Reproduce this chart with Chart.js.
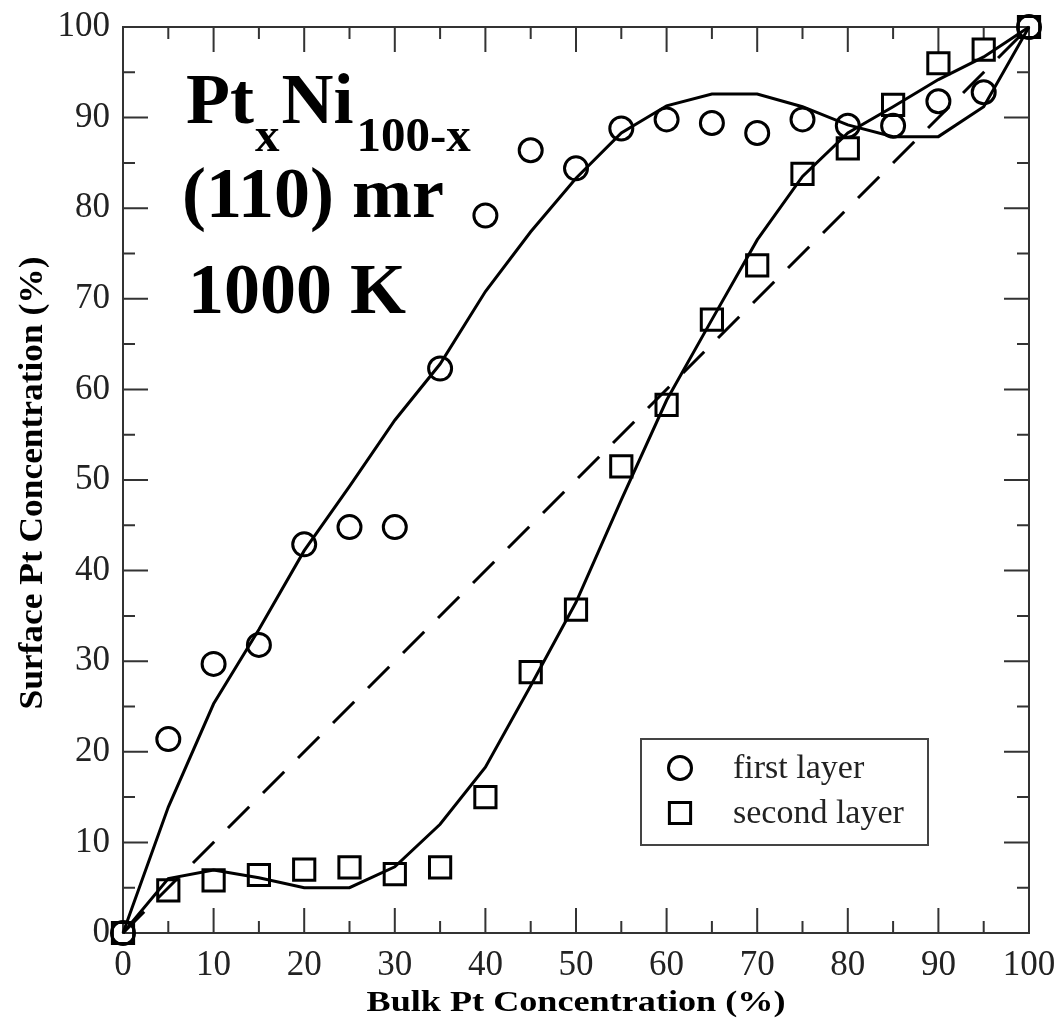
<!DOCTYPE html>
<html>
<head>
<meta charset="utf-8">
<script src="https://cdn.jsdelivr.net/npm/chart.js@4.4.0/dist/chart.umd.min.js"></script>
<style>
  html, body { margin: 0; padding: 0; background: #fff; }
  #wrap { width: 1061px; height: 1019px; }
</style>
</head>
<body>
<div id="wrap"><canvas id="chart" width="1061" height="1019"></canvas></div>
<script>
// bulk Pt concentration (%)
const bulk = [0, 5, 10, 15, 20, 25, 30, 35, 40, 45, 50, 55, 60, 65, 70, 75, 80, 85, 90, 95, 100];

// simulated surface concentrations (markers)
const firstLayer = [0, 21.4, 29.7, 31.8, 42.9, 44.8, 44.8, 62.3, 79.2, 86.4, 84.4, 88.8, 89.8, 89.4, 88.3, 89.8, 89.1, 89.1, 91.8, 92.8, 100];
const secondLayer = [0, 4.7, 5.8, 6.4, 7.0, 7.25, 6.5, 7.25, 15.0, 28.8, 35.7, 51.5, 58.3, 67.7, 73.7, 83.8, 86.6, 91.4, 96.0, 97.5, 100];

// model curves (solid lines)
const firstFit = [0, 13.9, 25.3, 33.5, 42.2, 49.3, 56.6, 62.8, 70.8, 77.4, 83.3, 88.3, 91.3, 92.6, 92.6, 91.2, 89.2, 87.9, 87.9, 91.2, 100];
const secondFit = [0, 6.0, 6.95, 6.1, 5.0, 5.0, 7.3, 12.0, 18.3, 27.3, 36.5, 47.8, 58.8, 67.7, 76.5, 83.5, 88.3, 91.2, 94.2, 96.7, 100];

// bulk = surface reference (dashed)
const diagX = [0, 100];
const diagY = [0, 100];

const xTicks = [0, 10, 20, 30, 40, 50, 60, 70, 80, 90, 100];
const yTicks = [0, 10, 20, 30, 40, 50, 60, 70, 80, 90, 100];

const SERIF = "'Liberation Serif', 'DejaVu Serif', serif";
const pts = (xs, ys) => xs.map((x, i) => ({ x: x, y: ys[i] }));

// frame with inward ticks on all four sides
const framePlugin = {
    id: "frame",
    beforeDatasetsDraw(chart) {
        const { ctx, chartArea: a } = chart;
        const xs = chart.scales.x, ys = chart.scales.y;
        ctx.save();
        ctx.strokeStyle = "#333";
        ctx.lineWidth = 2;
        ctx.strokeRect(a.left, a.top, a.right - a.left, a.bottom - a.top);
        ctx.beginPath();
        for (let v = 0; v <= 100; v += 5) {
            const len = v % 10 === 0 ? 25 : 12;
            const px = xs.getPixelForValue(v);
            const py = ys.getPixelForValue(v);
            ctx.moveTo(px, a.bottom); ctx.lineTo(px, a.bottom - len);
            ctx.moveTo(px, a.top); ctx.lineTo(px, a.top + len);
            ctx.moveTo(a.left, py); ctx.lineTo(a.left + len, py);
            ctx.moveTo(a.right, py); ctx.lineTo(a.right - len, py);
        }
        ctx.stroke();
        ctx.restore();
    },
    afterDraw(chart) {
        const { ctx, chartArea: a } = chart;
        const cx = (a.left + a.right) / 2;
        const cy = (a.top + a.bottom) / 2;
        ctx.save();
        ctx.fillStyle = "#000";

        // axis titles, stretched to the width seen in the figure
        ctx.font = "bold 30px " + SERIF;
        ctx.textAlign = "center";
        ctx.textBaseline = "alphabetic";
        let t = "Bulk Pt Concentration (%)";
        let w = ctx.measureText(t).width;
        ctx.save();
        ctx.translate(cx, 1011);
        ctx.scale(419 / w, 1);
        ctx.fillText(t, 0, 0);
        ctx.restore();

        ctx.font = "bold 34px " + SERIF;
        t = "Surface Pt Concentration (%)";
        w = ctx.measureText(t).width;
        ctx.save();
        ctx.translate(42, cy + 3);
        ctx.rotate(-Math.PI / 2);
        ctx.scale(453 / w, 1);
        ctx.fillText(t, 0, 0);
        ctx.restore();

        // annotation
        ctx.textAlign = "left";
        const big = "bold 72px " + SERIF;
        const sub = "bold 49px " + SERIF;
        let x = a.left + 63;
        ctx.font = big; ctx.fillText("Pt", x, 123); x += ctx.measureText("Pt").width + 1;
        ctx.font = sub; ctx.fillText("x", x, 151); x += ctx.measureText("x").width + 2;
        ctx.font = big; ctx.fillText("Ni", x, 123); x += ctx.measureText("Ni").width + 3;
        ctx.font = sub; ctx.fillText("100-x", x, 151);
        ctx.font = big;
        ctx.fillText("(110) mr", a.left + 59, 217);
        ctx.fillText("1000 K", a.left + 65, 313);

        // legend box
        const lx = 641, ly = 739, lw = 287, lh = 106;
        ctx.strokeStyle = "#444";
        ctx.lineWidth = 2;
        ctx.strokeRect(lx, ly, lw, lh);
        const items = [
            { label: "first layer", ds: chart.data.datasets[0], y: 768 },
            { label: "second layer", ds: chart.data.datasets[1], y: 813 }
        ];
        ctx.font = "34px " + SERIF;
        ctx.textBaseline = "middle";
        items.forEach(it => {
            ctx.strokeStyle = "#000";
            ctx.fillStyle = "rgba(0,0,0,0)";
            ctx.lineWidth = it.ds.borderWidth;
            Chart.helpers.drawPoint(ctx, {
                pointStyle: it.ds.pointStyle,
                radius: it.ds.pointRadius,
                rotation: 0,
                borderWidth: it.ds.borderWidth
            }, lx + 39, it.y);
            ctx.fillStyle = "#222";
            ctx.fillText(it.label, lx + 92, it.y + 1);
        });
        ctx.restore();
    }
};

new Chart(document.getElementById("chart"), {
    type: "scatter",
    data: {
        datasets: [
            {
                label: "first layer",
                data: pts(bulk, firstLayer),
                showLine: false,
                pointStyle: "circle",
                pointRadius: 11.5,
                pointHoverRadius: 11.5,
                borderWidth: 3,
                borderColor: "#000",
                backgroundColor: "rgba(0,0,0,0)",
                clip: false
            },
            {
                label: "second layer",
                data: pts(bulk, secondLayer),
                showLine: false,
                pointStyle: "rect",
                pointRadius: 15,
                pointHoverRadius: 15,
                borderWidth: 3,
                borderColor: "#000",
                backgroundColor: "rgba(0,0,0,0)",
                clip: false
            },
            {
                label: "first layer model",
                data: pts(bulk, firstFit),
                showLine: true,
                pointRadius: 0,
                borderWidth: 3,
                borderColor: "#000",
                tension: 0,
                clip: false
            },
            {
                label: "second layer model",
                data: pts(bulk, secondFit),
                showLine: true,
                pointRadius: 0,
                borderWidth: 3,
                borderColor: "#000",
                tension: 0,
                clip: false
            },
            {
                label: "bulk",
                data: pts(diagX, diagY),
                showLine: true,
                pointRadius: 0,
                borderWidth: 3,
                borderColor: "#000",
                borderDash: [30, 19.5],
                tension: 0,
                clip: false
            }
        ]
    },
    options: {
        responsive: false,
        animation: false,
        events: [],
        layout: { padding: { top: 27, right: 32, left: 0, bottom: 0 } },
        plugins: {
            legend: { display: false },
            tooltip: { enabled: false }
        },
        scales: {
            x: {
                type: "linear",
                min: 0,
                max: 100,
                afterBuildTicks: (s) => { s.ticks = xTicks.map(v => ({ value: v })); },
                afterFit: (s) => {
                    s.height = 86;
                    s.paddingLeft = 0; s.paddingRight = 0;
                },
                grid: { display: false, drawTicks: false },
                border: { display: false },
                ticks: {
                    color: "#222",
                    padding: 12,
                    maxRotation: 0,
                    font: { family: SERIF, size: 35 }
                }
            },
            y: {
                type: "linear",
                min: 0,
                max: 100,
                afterBuildTicks: (s) => { s.ticks = yTicks.map(v => ({ value: v })); },
                afterFit: (s) => {
                    s.width = 123;
                    s.paddingTop = 0; s.paddingBottom = 0;
                },
                grid: { display: false, drawTicks: false },
                border: { display: false },
                ticks: {
                    color: "#222",
                    padding: 13,
                    font: { family: SERIF, size: 35 }
                }
            }
        }
    },
    plugins: [framePlugin]
});
</script>
</body>
</html>
